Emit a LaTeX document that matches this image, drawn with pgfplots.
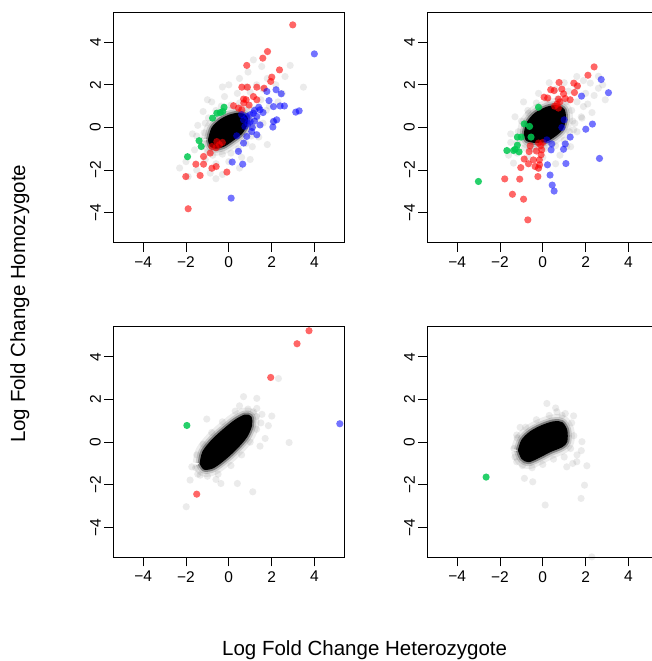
\documentclass[border=0pt]{standalone}
\usepackage{fontspec}
\setmainfont{Liberation Sans}
\usepackage{pgfplots}
\pgfplotsset{compat=1.18}
\definecolor{pgreen}{RGB}{0,200,80}
\pgfplotsset{
  panel/.style={
    width=231pt, height=230.4pt, scale only axis,
    xmin=-5.4, xmax=5.4, ymin=-5.4, ymax=5.4,
    xtick={-4,-2,0,2,4}, ytick={-4,-2,0,2,4},
    xticklabels={−4,−2,0,2,4}, yticklabels={−4,−2,0,2,4},
    xtick pos=bottom, ytick pos=left,
    tick align=outside, major tick length=9pt,
    tick style={black, line width=1pt},
    axis line style={line width=1pt},
    ticklabel style={font=\fontsize{15.5}{18}\selectfont},
    xticklabel style={yshift=-1.5pt},
    yticklabel style={rotate=90, anchor=south},
    clip=true,
  },
  gpt/.style={only marks, mark=*, mark size=3.6pt, mark options={fill=black, fill opacity=0.08, draw opacity=0}},
  rpt/.style={only marks, mark=*, mark size=3.6pt, mark options={fill=red, fill opacity=0.6, draw opacity=0}},
  bpt/.style={only marks, mark=*, mark size=3.6pt, mark options={fill=blue, fill opacity=0.55, draw opacity=0}},
  npt/.style={only marks, mark=*, mark size=3.6pt, mark options={fill=pgreen, fill opacity=0.85, draw opacity=0}},
  fuzz1/.style={draw=black, draw opacity=0.07, line width=15pt, smooth, line join=round, fill=none},
  fuzz2/.style={draw=black, draw opacity=0.15, line width=9pt, smooth, line join=round, fill=none},
  fuzz3/.style={draw=black, draw opacity=0.35, line width=5pt, smooth, line join=round, fill=none},
  core/.style={draw=black, line width=1pt, fill=black, smooth},
}
\begin{document}
\begin{tikzpicture}
% ---------------- panel 1 ----------------
\begin{axis}[panel, at={(113.3pt,418.3pt)}, anchor=south west]
\addplot[gpt] coordinates {
(-1.3,-0.6) (-1.15,-0.25) (-1.1,0.2) (-0.95,0.45) (-0.6,0.8) (-0.35,1.0) (0.1,1.05) (0.5,1.15) (0.9,0.95) (1.2,0.85)
(1.3,0.4) (1.15,0.05) (1.05,-0.4) (0.8,-0.75) (0.45,-1.0) (0.1,-1.2) (-0.3,-1.25) (-0.75,-1.3) (-1.0,-1.15) (-1.25,-0.9)
(-1.6,-1.05) (-1.5,-0.4) (-1.45,0.1) (-1.2,0.75) (-0.8,1.2) (-0.2,1.45) (0.4,1.6) (1.0,1.65) (1.5,1.3) (1.75,0.8)
(1.6,0.2) (1.4,-0.45) (1.1,-0.9) (0.6,-1.4) (0.0,-1.6) (-0.6,-1.7) (-1.1,-1.5)
(2.87,2.91) (3.49,1.89) (2.63,2.39) (1.54,2.86) (1.15,3.17) (2.2,2.0) (1.8,2.3) (2.5,1.6) (0.5,2.3) (-0.3,1.9)
(-1.0,1.3) (-1.7,-0.3) (-2.0,-1.6) (-1.5,-2.0) (-0.87,-2.14) (-0.3,-2.2) (0.5,-1.9) (1.0,-1.5) (1.8,-0.8) (2.1,0.3)
(1.9,1.0) (0.0,2.0) (-0.6,-2.4) (0.9,2.6) (1.3,2.0) (0.8,1.9) (2.3,1.2) (1.6,1.8) (-1.9,-2.3) (-2.3,-1.9)
};
\addplot[fuzz1] coordinates {(-0.95,-0.58) (-0.79,-0.03) (-0.40,0.36) (0.06,0.59) (0.53,0.67) (0.84,0.52) (0.84,0.12) (0.61,-0.27) (0.22,-0.58) (-0.25,-0.89) (-0.64,-0.97) (-0.87,-0.86) (-0.95,-0.58)};
\addplot[fuzz2] coordinates {(-0.95,-0.58) (-0.79,-0.03) (-0.40,0.36) (0.06,0.59) (0.53,0.67) (0.84,0.52) (0.84,0.12) (0.61,-0.27) (0.22,-0.58) (-0.25,-0.89) (-0.64,-0.97) (-0.87,-0.86) (-0.95,-0.58)};
\addplot[fuzz3] coordinates {(-0.95,-0.58) (-0.79,-0.03) (-0.40,0.36) (0.06,0.59) (0.53,0.67) (0.84,0.52) (0.84,0.12) (0.61,-0.27) (0.22,-0.58) (-0.25,-0.89) (-0.64,-0.97) (-0.87,-0.86) (-0.95,-0.58)};
\addplot[core] coordinates {(-0.95,-0.58) (-0.79,-0.03) (-0.40,0.36) (0.06,0.59) (0.53,0.67) (0.84,0.52) (0.84,0.12) (0.61,-0.27) (0.22,-0.58) (-0.25,-0.89) (-0.64,-0.97) (-0.87,-0.86) (-0.95,-0.58)};
\addplot[rpt] coordinates {
(2.99,4.81) (1.81,3.56) (1.59,3.25) (0.84,2.91) (2.37,2.70) (2.01,2.36) (1.96,2.16) (0.61,1.89) (0.87,1.89) (1.31,1.89)
(1.65,1.84) (0.69,1.33) (0.81,1.30) (1.15,1.45) (1.31,1.30) (0.22,1.02) (0.45,0.91) (0.61,0.83) (0.70,1.15) (0.95,1.05)
(-0.56,-0.66) (-0.44,-0.81) (-0.79,-0.89) (-0.87,-1.20) (-1.18,-1.36) (-1.54,-1.72) (-1.18,-1.72) (-0.79,-1.91)
(-0.59,-1.83) (-0.09,-2.09) (-1.34,-2.25) (-2.01,-2.30) (-1.90,-3.81) (-0.60,-0.95) (-0.30,-0.70)
};
\addplot[bpt] coordinates {
(4.0,3.45) (1.78,1.69) (2.21,1.77) (2.45,1.58) (1.88,1.26) (2.09,0.98) (2.40,1.01) (2.60,1.01) (3.13,0.72) (3.29,0.78)
(1.46,0.83) (1.15,0.67) (0.84,0.52) (1.31,0.52) (1.00,0.28) (0.69,0.36) (1.46,0.12) (2.06,0.02) (2.09,0.28) (2.24,0.36)
(1.31,-0.34) (1.07,-0.19) (0.84,-0.42) (0.37,-0.39) (0.69,-0.73) (0.45,-1.12) (0.16,-1.62) (0.65,-1.72) (0.11,-3.31)
(1.20,0.80) (1.00,0.60) (0.90,0.20) (1.20,0.30) (1.60,0.70) (0.75,0.05) (1.10,0.00) (0.60,0.60) (1.40,0.95)
};
\addplot[npt] coordinates {
(-0.22,0.95) (-0.28,0.75) (-0.56,0.67) (-0.76,0.44) (-1.39,-0.62) (-1.29,-0.89) (-1.93,-1.37) (-0.40,0.70)
};
\end{axis}
% ---------------- panel 2 ----------------
\begin{axis}[panel, at={(427.3pt,418.3pt)}, anchor=south west]
\addplot[gpt] coordinates {
(-1.2,-0.7) (-1.15,-0.2) (-1.0,0.3) (-0.7,0.8) (-0.3,1.15) (0.2,1.3) (0.7,1.35) (1.1,1.2) (1.35,0.8) (1.4,0.3)
(1.25,-0.2) (1.0,-0.6) (0.6,-0.85) (0.1,-1.0) (-0.4,-1.05) (-0.85,-0.95)
(-1.5,-0.3) (-1.3,0.5) (-0.9,1.2) (-0.2,1.6) (0.6,1.8) (1.2,1.7) (1.6,1.2) (1.8,0.5) (1.6,-0.2) (1.3,-0.9)
(0.8,-1.3) (0.0,-1.4) (-0.7,-1.4) (-1.2,-1.2)
(2.92,1.30) (2.22,2.08) (1.59,2.39) (2.60,1.84) (1.90,0.98) (1.83,0.44) (1.44,-0.11) (1.12,-0.89) (-1.37,-1.67)
(-1.5,-0.7) (-0.67,0.67) (-0.6,-1.0) (2.4,1.5) (2.0,1.6) (1.9,2.2) (2.8,2.0) (2.1,1.1) (1.6,1.9) (1.0,2.1)
(2.3,0.7) (1.5,0.2) (0.3,2.1) (-1.6,-1.3) (-0.2,-1.9) (0.6,-1.7) (2.6,2.4)
};
\addplot[fuzz1] coordinates {(-0.87,-0.34) (-0.75,0.20) (-0.36,0.67) (0.19,0.95) (0.66,1.02) (1.00,0.83) (1.05,0.36) (0.89,-0.11) (0.50,-0.45) (0.11,-0.66) (-0.36,-0.70) (-0.75,-0.61) (-0.87,-0.34)};
\addplot[fuzz2] coordinates {(-0.87,-0.34) (-0.75,0.20) (-0.36,0.67) (0.19,0.95) (0.66,1.02) (1.00,0.83) (1.05,0.36) (0.89,-0.11) (0.50,-0.45) (0.11,-0.66) (-0.36,-0.70) (-0.75,-0.61) (-0.87,-0.34)};
\addplot[fuzz3] coordinates {(-0.87,-0.34) (-0.75,0.20) (-0.36,0.67) (0.19,0.95) (0.66,1.02) (1.00,0.83) (1.05,0.36) (0.89,-0.11) (0.50,-0.45) (0.11,-0.66) (-0.36,-0.70) (-0.75,-0.61) (-0.87,-0.34)};
\addplot[core] coordinates {(-0.87,-0.34) (-0.75,0.20) (-0.36,0.67) (0.19,0.95) (0.66,1.02) (1.00,0.83) (1.05,0.36) (0.89,-0.11) (0.50,-0.45) (0.11,-0.66) (-0.36,-0.70) (-0.75,-0.61) (-0.87,-0.34)};
\addplot[rpt] coordinates {
(2.40,2.84) (2.11,2.45) (0.76,2.11) (1.45,2.08) (1.62,1.95) (0.37,1.77) (0.53,1.73) (0.89,1.80) (0.97,1.58) (1.48,1.64)
(0.06,1.42) (0.23,1.38) (0.73,1.33) (1.05,1.36) (1.28,1.30) (0.66,1.09) (0.73,0.91) (0.80,1.20) (0.55,1.00)
(0.0,-0.70) (-0.20,-0.73) (-0.59,-0.86) (-0.64,-1.13) (-0.05,-1.05) (-0.08,-1.28) (-0.16,-1.52) (-0.44,-1.52)
(-0.87,-1.48) (-0.67,-1.70) (-0.36,-1.83) (-0.20,-1.91) (-1.03,-1.88) (-0.23,-2.30) (-1.08,-2.42) (-1.78,-2.41)
(-1.42,-3.13) (-0.90,-3.36) (-0.70,-4.33) (-0.10,-0.85) (-0.30,-1.10) (-0.15,-1.75)
};
\addplot[bpt] coordinates {
(2.73,2.25) (3.07,1.63) (1.81,1.47) (1.00,0.36) (0.89,0.0) (2.32,0.16) (2.01,-0.08) (1.28,-0.45) (1.05,-0.77)
(0.19,-0.58) (0.42,-0.77) (0.97,-1.02) (0.39,-1.05) (2.65,-1.45) (1.08,-1.69) (0.22,-1.75) (0.34,-2.23) (0.44,-2.70) (0.53,-2.98)
};
\addplot[npt] coordinates {
(-0.20,0.95) (-0.87,0.17) (-0.62,0.05) (-1.19,-0.45) (-1.01,-0.45) (-0.55,-0.45) (-1.19,-0.83) (-1.29,-1.02)
(-1.68,-1.08) (-1.37,-1.08) (-1.11,-1.14) (-3.01,-2.53)
};
\end{axis}
% ---------------- panel 3 ----------------
\begin{axis}[panel, at={(113.3pt,103.7pt)}, anchor=south west]
\addplot[gpt] coordinates {
(-1.03,1.08) (0.69,2.13) (1.31,2.05) (2.01,1.22) (1.85,0.77) (1.70,0.17) (1.46,-0.19) (2.82,-0.02) (2.32,2.98)
(1.12,-2.33) (0.40,-1.94) (-0.37,-1.94) (-1.81,-1.78) (-1.99,-3.03) (-1.73,-1.16) (1.15,1.42) (1.31,1.58) (-1.34,-1.55)
(-1.55,-1.2) (-1.5,-0.6) (-1.2,-0.1) (-0.8,0.45) (-0.3,0.95) (0.3,1.45) (0.9,1.55) (1.3,1.2) (1.3,0.6) (1.0,0.0)
(0.6,-0.6) (0.1,-1.1) (-0.5,-1.5) (-1.0,-1.6) (-1.45,-1.5) (0.5,1.7) (1.5,0.9) (-0.6,-1.75) (1.55,1.3)
};
\addplot[fuzz1] coordinates {(-1.34,-1.0) (-1.21,-0.45) (-0.79,0.09) (-0.25,0.59) (0.30,1.03) (0.76,1.27) (1.03,1.19) (1.07,0.80) (0.84,0.25) (0.37,-0.30) (-0.17,-0.80) (-0.72,-1.20) (-1.15,-1.27) (-1.34,-1.0)};
\addplot[fuzz2] coordinates {(-1.34,-1.0) (-1.21,-0.45) (-0.79,0.09) (-0.25,0.59) (0.30,1.03) (0.76,1.27) (1.03,1.19) (1.07,0.80) (0.84,0.25) (0.37,-0.30) (-0.17,-0.80) (-0.72,-1.20) (-1.15,-1.27) (-1.34,-1.0)};
\addplot[fuzz3] coordinates {(-1.34,-1.0) (-1.21,-0.45) (-0.79,0.09) (-0.25,0.59) (0.30,1.03) (0.76,1.27) (1.03,1.19) (1.07,0.80) (0.84,0.25) (0.37,-0.30) (-0.17,-0.80) (-0.72,-1.20) (-1.15,-1.27) (-1.34,-1.0)};
\addplot[core] coordinates {(-1.34,-1.0) (-1.21,-0.45) (-0.79,0.09) (-0.25,0.59) (0.30,1.03) (0.76,1.27) (1.03,1.19) (1.07,0.80) (0.84,0.25) (0.37,-0.30) (-0.17,-0.80) (-0.72,-1.20) (-1.15,-1.27) (-1.34,-1.0)};
\addplot[rpt] coordinates {(3.75,5.22) (3.19,4.61) (1.96,3.03) (-1.50,-2.44)};
\addplot[bpt] coordinates {(5.19,0.86)};
\addplot[npt] coordinates {(-1.96,0.78)};
\end{axis}
% ---------------- panel 4 ----------------
\begin{axis}[panel, at={(427.3pt,103.7pt)}, anchor=south west]
\addplot[gpt] coordinates {
(0.19,1.81) (-1.06,0.69) (1.05,1.34) (1.44,1.23) (1.83,0.02) (2.06,-1.11) (1.95,-2.02) (1.79,-2.64) (0.11,-2.95)
(-0.86,-1.70) (-0.47,-1.86) (2.29,-5.38) (-1.22,0.33) (1.59,-0.92) (1.12,-1.16) (-1.22,-0.92) (0.66,1.42)
(-1.35,-0.3) (-1.2,0.2) (-0.8,0.7) (-0.3,1.05) (0.3,1.25) (0.9,1.25) (1.35,0.9) (1.45,0.3) (1.3,-0.3) (1.6,-0.6)
(1.0,-0.7) (0.5,-0.8) (0.0,-1.05) (-0.5,-1.2) (-0.95,-1.1) (-1.3,-0.7) (1.8,-0.4) (1.4,-1.0) (0.6,1.6)
};
\addplot[fuzz1] coordinates {(-1.14,-0.38) (-0.98,0.09) (-0.59,0.48) (-0.05,0.77) (0.50,0.95) (0.89,0.92) (1.12,0.56) (1.12,0.02) (0.89,-0.22) (0.34,-0.45) (-0.20,-0.73) (-0.67,-0.92) (-0.98,-0.77) (-1.14,-0.38)};
\addplot[fuzz2] coordinates {(-1.14,-0.38) (-0.98,0.09) (-0.59,0.48) (-0.05,0.77) (0.50,0.95) (0.89,0.92) (1.12,0.56) (1.12,0.02) (0.89,-0.22) (0.34,-0.45) (-0.20,-0.73) (-0.67,-0.92) (-0.98,-0.77) (-1.14,-0.38)};
\addplot[fuzz3] coordinates {(-1.14,-0.38) (-0.98,0.09) (-0.59,0.48) (-0.05,0.77) (0.50,0.95) (0.89,0.92) (1.12,0.56) (1.12,0.02) (0.89,-0.22) (0.34,-0.45) (-0.20,-0.73) (-0.67,-0.92) (-0.98,-0.77) (-1.14,-0.38)};
\addplot[core] coordinates {(-1.14,-0.38) (-0.98,0.09) (-0.59,0.48) (-0.05,0.77) (0.50,0.95) (0.89,0.92) (1.12,0.56) (1.12,0.02) (0.89,-0.22) (0.34,-0.45) (-0.20,-0.73) (-0.67,-0.92) (-0.98,-0.77) (-1.14,-0.38)};
\addplot[npt] coordinates {(-2.65,-1.64)};
\end{axis}
\node[rotate=90, anchor=base west, font=\fontsize{20.5}{24}\selectfont, inner sep=0pt] at (25pt,218pt) {Log Fold Change Homozygote};
\node[anchor=base west, font=\fontsize{20.5}{24}\selectfont, inner sep=0pt] at (222pt,5.3pt) {Log Fold Change Heterozygote};
\pgfresetboundingbox
\path[use as bounding box] (0pt,0pt) rectangle (651pt,661pt);
\end{tikzpicture}
\end{document}
